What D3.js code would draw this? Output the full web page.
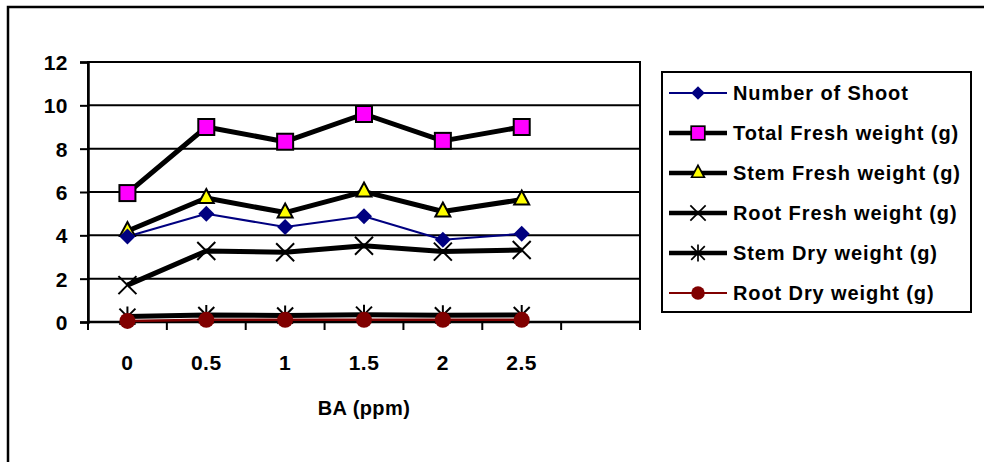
<!DOCTYPE html>
<html><head><meta charset="utf-8">
<script src="https://cdn.jsdelivr.net/npm/d3@7"></script>
<style>body{margin:0;background:#fff}svg{display:block}text{font-family:"Liberation Sans",Arial,sans-serif;font-weight:bold}</style>
</head><body>
<svg id="c" width="984" height="462"></svg>
<script>
const categories = ["0","0.5","1","1.5","2","2.5",""];
const yTicks = [0,2,4,6,8,10,12];
const seriesNames = ["Number of Shoot","Total Fresh weight (g)","Stem Fresh weight (g)","Root Fresh weight (g)","Stem Dry weight (g)","Root Dry weight (g)"];
const numberOfShoot = [3.95,5.0,4.38,4.88,3.8,4.07];
const totalFresh = [5.95,9.0,8.32,9.6,8.36,9.0];
const stemFresh = [4.2,5.72,5.05,6.02,5.1,5.65];
const rootFresh = [1.7,3.28,3.22,3.52,3.25,3.32];
const stemDry = [0.25,0.32,0.3,0.34,0.31,0.32];
const rootDry = [0.05,0.1,0.1,0.1,0.1,0.1];

const svg = d3.select("#c");
const L=88,R=640,T=62,B=322;
const x = d3.scaleBand().domain(categories.map((c,i)=>i)).range([L,R]);
const y = d3.scaleLinear().domain([0,12]).range([B,T]);

// outer border (top and left only visible)
svg.append("path").attr("d","M8,462V7H984").attr("fill","none").attr("stroke","#000").attr("stroke-width",2.5);

// gridlines
svg.append("g").selectAll("line").data(yTicks.filter(d=>d>0)).join("line")
  .attr("x1",L).attr("x2",R).attr("y1",d=>y(d)).attr("y2",d=>y(d)).attr("stroke","#000").attr("stroke-width",2);
// plot border
svg.append("rect").attr("x",L).attr("y",T).attr("width",R-L).attr("height",B-T).attr("fill","none").attr("stroke","#000").attr("stroke-width",2);

// y axis
const ya = svg.append("g").attr("transform",`translate(${L},0)`).call(d3.axisLeft(y).tickValues(yTicks).tickSize(8).tickPadding(12));
ya.attr("font-size",null).attr("font-family",null);
ya.select(".domain").attr("stroke-width",2.5);
ya.selectAll(".tick line").attr("stroke-width",2);
ya.selectAll("text").style("font-size","21px").style("font-weight","bold").style("letter-spacing","0.5px").attr("fill","#000").attr("dy","0.36em");

// x axis ticks at band boundaries
const bounds = categories.map((c,i)=>x(i)).concat([R]);
svg.append("g").selectAll("line").data(bounds).join("line")
  .attr("x1",d=>d).attr("x2",d=>d).attr("y1",B).attr("y2",B+8).attr("stroke","#000").attr("stroke-width",2);
svg.append("line").attr("x1",L).attr("x2",R).attr("y1",B).attr("y2",B).attr("stroke","#000").attr("stroke-width",2.5);
svg.append("g").selectAll("text").data(categories).join("text")
  .attr("x",(d,i)=>x(i)+x.bandwidth()/2).attr("y",370).attr("text-anchor","middle").style("font-size","21px").style("letter-spacing","0.5px").text(d=>d);
svg.append("text").attr("x",364).attr("y",415).attr("text-anchor","middle").style("font-size","20px").style("letter-spacing","0.4px").text("BA (ppm)");

const cx = i=>x(i)+x.bandwidth()/2;
const sym = {
  diamond: g=>g.append("path").attr("d","M0,-8L8,0L0,8L-8,0Z").attr("fill","#000080"),
  square: g=>g.append("rect").attr("x",-8).attr("y",-8).attr("width",16).attr("height",16).attr("fill","#FF00FF").attr("stroke","#000").attr("stroke-width",2),
  triangle: g=>g.append("path").attr("d","M0,-9L7.5,5L-7.5,5Z").attr("fill","#FFFF00").attr("stroke","#000").attr("stroke-width",2),
  x: g=>g.append("path").attr("d","M-9,-9L9,9M-9,9L9,-9").attr("stroke","#000").attr("stroke-width",2),
  star: g=>g.append("path").attr("d","M-8,-8L8,8M-8,8L8,-8M0,-10V10").attr("stroke","#000").attr("stroke-width",2),
  circle: g=>g.append("circle").attr("r",8).attr("fill","#800000")
};
const series = [
  {name:seriesNames[0],v:numberOfShoot,color:"#000080",w:2,m:"diamond"},
  {name:seriesNames[1],v:totalFresh,color:"#000",w:5,m:"square"},
  {name:seriesNames[2],v:stemFresh,color:"#000",w:5,m:"triangle"},
  {name:seriesNames[3],v:rootFresh,color:"#000",w:5,m:"x"},
  {name:seriesNames[4],v:stemDry,color:"#000",w:5,m:"star"},
  {name:seriesNames[5],v:rootDry,color:"#800000",w:2.5,m:"circle"}
];
const line = d3.line().x((d,i)=>cx(i)).y(d=>y(d));
const drawOrder=[4,3,2,1,0,5];
drawOrder.forEach(k=>{
  const s=series[k];
  svg.append("path").datum(s.v).attr("d",line).attr("fill","none").attr("stroke",s.color).attr("stroke-width",s.w).attr("stroke-linejoin","round");
});
drawOrder.forEach(k=>{
  const s=series[k];
  s.v.forEach((v,i)=>{ const g=svg.append("g").attr("transform",`translate(${cx(i)},${y(v)})`); sym[s.m](g); });
});

// legend
svg.append("rect").attr("x",662).attr("y",72).attr("width",309).attr("height",240).attr("fill","#fff").attr("stroke","#000").attr("stroke-width",2);
series.forEach((s,i)=>{
  const ly = 93+i*40;
  svg.append("line").attr("x1",669).attr("x2",727).attr("y1",ly).attr("y2",ly).attr("stroke",s.color).attr("stroke-width",s.w===5?4.5:2);
  const g=svg.append("g").attr("transform",`translate(698,${ly}) scale(0.85)`); sym[s.m](g);
  svg.append("text").attr("x",733).attr("y",ly+7).style("font-size","20px").style("letter-spacing","0.9px").text(s.name);
});
</script>
</body></html>
